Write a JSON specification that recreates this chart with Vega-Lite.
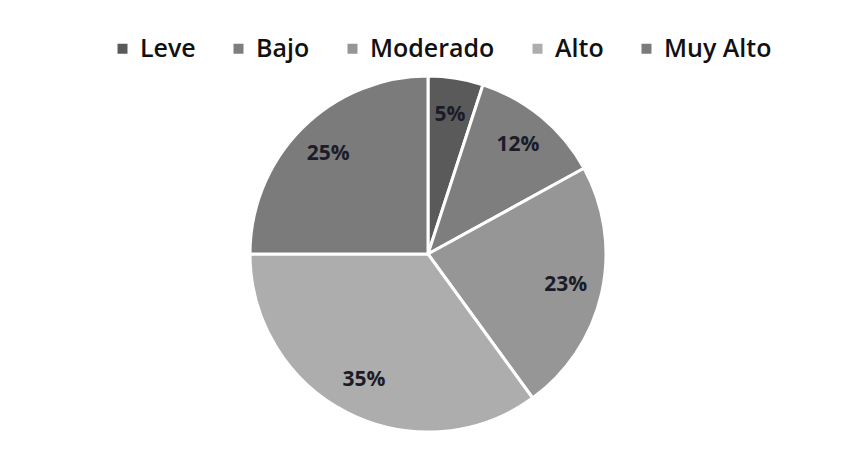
{
  "$schema": "https://vega.github.io/schema/vega-lite/v6.json",
  "width": 856,
  "height": 508,
  "autosize": "none",
  "padding": 0,
  "background": "white",
  "data": {
    "values": [
      {"nivel": "Leve", "pct": 5, "orden": 1, "etiqueta": "5%"},
      {"nivel": "Bajo", "pct": 12, "orden": 2, "etiqueta": "12%"},
      {"nivel": "Moderado", "pct": 23, "orden": 3, "etiqueta": "23%"},
      {"nivel": "Alto", "pct": 35, "orden": 4, "etiqueta": "35%"},
      {"nivel": "Muy Alto", "pct": 25, "orden": 5, "etiqueta": "25%"}
    ]
  },
  "encoding": {
    "theta": {"field": "pct", "type": "quantitative", "stack": true},
    "order": {"field": "orden", "type": "quantitative"}
  },
  "layer": [
    {
      "mark": {"type": "arc", "outerRadius": 178, "stroke": "white", "strokeWidth": 3},
      "encoding": {
        "color": {
          "field": "nivel",
          "type": "nominal",
          "sort": ["Leve", "Bajo", "Moderado", "Alto", "Muy Alto"],
          "scale": {
            "domain": ["Leve", "Bajo", "Moderado", "Alto", "Muy Alto"],
            "range": ["#5a5a5a", "#7e7e7e", "#969696", "#adadad", "#7b7b7b"]
          },
          "legend": {
            "title": null,
            "orient": "none",
            "direction": "horizontal",
            "legendX": 110,
            "legendY": 36,
            "symbolType": "square",
            "symbolSize": 100,
            "symbolStrokeWidth": 0,
            "labelFont": "Open Sans",
            "labelFontSize": 25,
            "labelFontWeight": 600,
            "labelColor": "#111111",
            "labelOffset": 5,
            "columnPadding": 30,
            "labelLimit": 300
          }
        }
      }
    },
    {
      "mark": {
        "type": "text",
        "radius": 141,
        "font": "Open Sans",
        "fontSize": 21,
        "fontWeight": "bold",
        "fill": "#1c1c28"
      },
      "encoding": {
        "text": {"field": "etiqueta", "type": "nominal"}
      }
    }
  ]
}
